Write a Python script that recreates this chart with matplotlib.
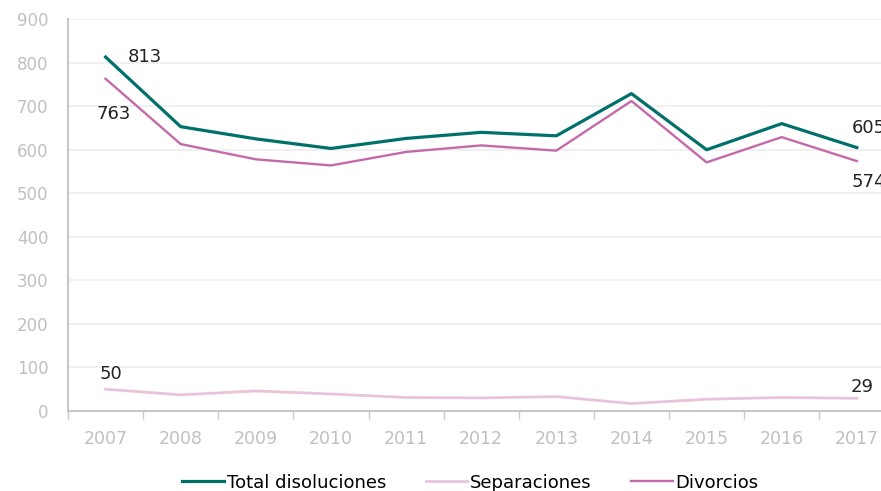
import matplotlib.pyplot as plt

years = ['2007', '2008', '2009', '2010', '2011', '2012', '2013', '2014', '2015', '2016', '2017']
total = [813, 653, 625, 603, 626, 640, 632, 729, 600, 660, 605]
separaciones = [50, 37, 46, 39, 31, 30, 33, 17, 27, 31, 29]
divorcios = [763, 613, 578, 564, 595, 610, 598, 712, 571, 629, 574]

c_total = '#00706a'
c_sep = '#e9c3dc'
c_div = '#c46aa8'
c_axis = '#c8c8c8'

fig = plt.figure(figsize=(8.81, 4.91), dpi=100)
ax = fig.add_axes([0.0772, 0.163, 0.938, 0.798])

x = range(len(years))
ax.plot(x, total, color=c_total, linewidth=2.3, label='Total disoluciones', zorder=3)
ax.plot(x, separaciones, color=c_sep, linewidth=2.0, label='Separaciones', zorder=3)
ax.plot(x, divorcios, color=c_div, linewidth=1.7, label='Divorcios', zorder=3)

ax.set_xlim(-0.5, len(years) - 0.5)
ax.set_ylim(0, 900)
ax.set_yticks(range(0, 901, 100))
ax.set_xticks(list(x))
ax.set_xticklabels(years)
ax.set_xticks([i - 0.5 for i in range(len(years) + 1)], minor=True)
ax.tick_params(axis='x', which='major', length=0, pad=14, labelsize=12.5, labelcolor='#c0c0c0')
ax.tick_params(axis='x', which='minor', length=6, color=c_axis, width=1)
ax.tick_params(axis='y', length=0, pad=14, labelsize=12, labelcolor='#c0c0c0')

ax.grid(axis='y', color='#eeeeee', linewidth=1.2, zorder=0)
ax.set_axisbelow(True)
for s in ['top', 'right']:
    ax.spines[s].set_visible(False)
ax.spines['left'].set_color(c_axis)
ax.spines['left'].set_linewidth(1.5)
ax.spines['bottom'].set_color(c_axis)
ax.spines['bottom'].set_linewidth(1.5)

# etiquetas de valores
fs = 13
ax.annotate(f'{total[0]}', (0, total[0]), xytext=(16, 0), textcoords='offset points',
            ha='left', va='center', fontsize=fs, color='#222222')
ax.annotate(f'{divorcios[0]}', (0, divorcios[0]), xytext=(6, -25), textcoords='offset points',
            ha='center', va='center', fontsize=fs, color='#222222')
ax.annotate(f'{total[-1]}', (10, total[-1]), xytext=(-4, 14), textcoords='offset points',
            ha='left', va='center', fontsize=fs, color='#222222')
ax.annotate(f'{divorcios[-1]}', (10, divorcios[-1]), xytext=(-4, -15), textcoords='offset points',
            ha='left', va='center', fontsize=fs, color='#222222')
ax.annotate(f'{separaciones[0]}', (0, separaciones[0]), xytext=(4, 11), textcoords='offset points',
            ha='center', va='center', fontsize=fs, color='#222222')
ax.annotate(f'{separaciones[-1]}', (10, separaciones[-1]), xytext=(4, 8), textcoords='offset points',
            ha='center', va='center', fontsize=fs, color='#222222')

fig.legend(loc='center', bbox_to_anchor=(0.534, 0.017), ncol=3, frameon=False,
           fontsize=13, handlelength=2.3, handletextpad=0.15, columnspacing=2.2)

fig.savefig('out.png', dpi=100)
